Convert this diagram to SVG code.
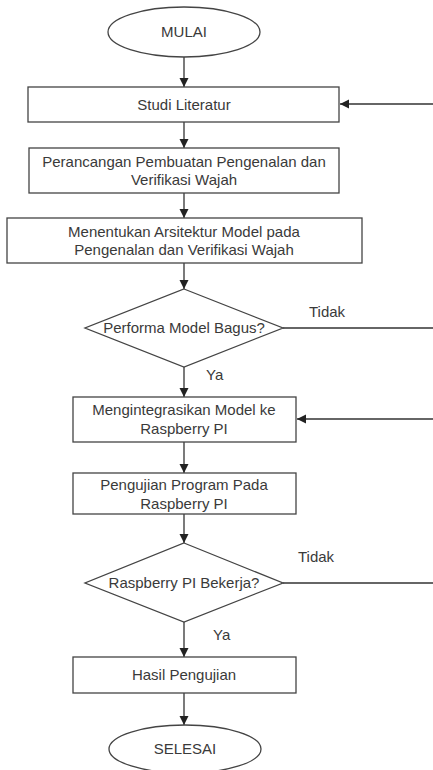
<svg xmlns="http://www.w3.org/2000/svg" width="433" height="770" viewBox="0 0 433 770">
<defs>
<marker id="arr" markerUnits="userSpaceOnUse" markerWidth="10" markerHeight="10" refX="9" refY="4.5" orient="auto">
<path d="M0,0 L9,4.5 L0,9 Z" fill="#222"/>
</marker>
<style>
.s{fill:#fff;stroke:#444;stroke-width:1.3}
.c{fill:none;stroke:#333;stroke-width:1.3}
.t{font-family:"Liberation Sans",Arial,sans-serif;font-size:15px;fill:#3a3a3a;text-anchor:middle}
.l{font-family:"Liberation Sans",Arial,sans-serif;font-size:15px;fill:#3a3a3a}
</style>
</defs>
<rect width="433" height="770" fill="#fff"/>
<g id="connectors">
<line class="c" x1="184" y1="57" x2="184" y2="87" marker-end="url(#arr)"/>
<line class="c" x1="184" y1="122" x2="184" y2="148" marker-end="url(#arr)"/>
<line class="c" x1="184" y1="193" x2="184" y2="218" marker-end="url(#arr)"/>
<line class="c" x1="184" y1="263" x2="184" y2="289" marker-end="url(#arr)"/>
<line class="c" x1="184" y1="367" x2="184" y2="397" marker-end="url(#arr)"/>
<line class="c" x1="184" y1="442" x2="184" y2="473" marker-end="url(#arr)"/>
<line class="c" x1="184" y1="514" x2="184" y2="543" marker-end="url(#arr)"/>
<line class="c" x1="184" y1="622" x2="184" y2="657" marker-end="url(#arr)"/>
<line class="c" x1="184" y1="693" x2="184" y2="725" marker-end="url(#arr)"/>
<line class="c" x1="433" y1="104" x2="340" y2="104" marker-end="url(#arr)"/>
<line class="c" x1="283" y1="328" x2="433" y2="328"/>
<line class="c" x1="433" y1="419" x2="297" y2="419" marker-end="url(#arr)"/>
<line class="c" x1="283" y1="583" x2="433" y2="583"/>
<text class="l" x="309" y="317">Tidak</text>
<text class="l" x="206" y="380">Ya</text>
<text class="l" x="298" y="562">Tidak</text>
<text class="l" x="213" y="640">Ya</text>
</g>
<g id="mulai">
<ellipse class="s" cx="184" cy="32" rx="76" ry="25"/>
<text class="t" x="184" y="37">MULAI</text>
</g>
<g id="studi">
<rect class="s" x="28" y="87" width="311" height="35"/>
<text class="t" x="184" y="110">Studi Literatur</text>
</g>
<g id="perancangan">
<rect class="s" x="29" y="148" width="310" height="45"/>
<text class="t" x="184" y="167">Perancangan Pembuatan Pengenalan dan</text>
<text class="t" x="184" y="185">Verifikasi Wajah</text>
</g>
<g id="arsitektur">
<rect class="s" x="7" y="218" width="355" height="45"/>
<text class="t" x="184" y="237">Menentukan Arsitektur Model pada</text>
<text class="t" x="184" y="255">Pengenalan dan Verifikasi Wajah</text>
</g>
<g id="performa">
<polygon class="s" points="184,289 283,328 184,367 85,328"/>
<text class="t" x="184" y="333">Performa Model Bagus?</text>
</g>
<g id="integrasi">
<rect class="s" x="73" y="397" width="223" height="45"/>
<text class="t" x="184" y="415">Mengintegrasikan Model ke</text>
<text class="t" x="184" y="434">Raspberry PI</text>
</g>
<g id="pengujian">
<rect class="s" x="73" y="473" width="223" height="41"/>
<text class="t" x="184" y="490">Pengujian Program Pada</text>
<text class="t" x="184" y="509">Raspberry PI</text>
</g>
<g id="bekerja">
<polygon class="s" points="184,543 283,583 184,622 85,583"/>
<text class="t" x="184" y="588">Raspberry PI Bekerja?</text>
</g>
<g id="hasil">
<rect class="s" x="73" y="657" width="223" height="36"/>
<text class="t" x="184" y="680">Hasil Pengujian</text>
</g>
<g id="selesai">
<ellipse class="s" cx="185" cy="749" rx="76" ry="24"/>
<text class="t" x="185" y="754">SELESAI</text>
</g>
</svg>
